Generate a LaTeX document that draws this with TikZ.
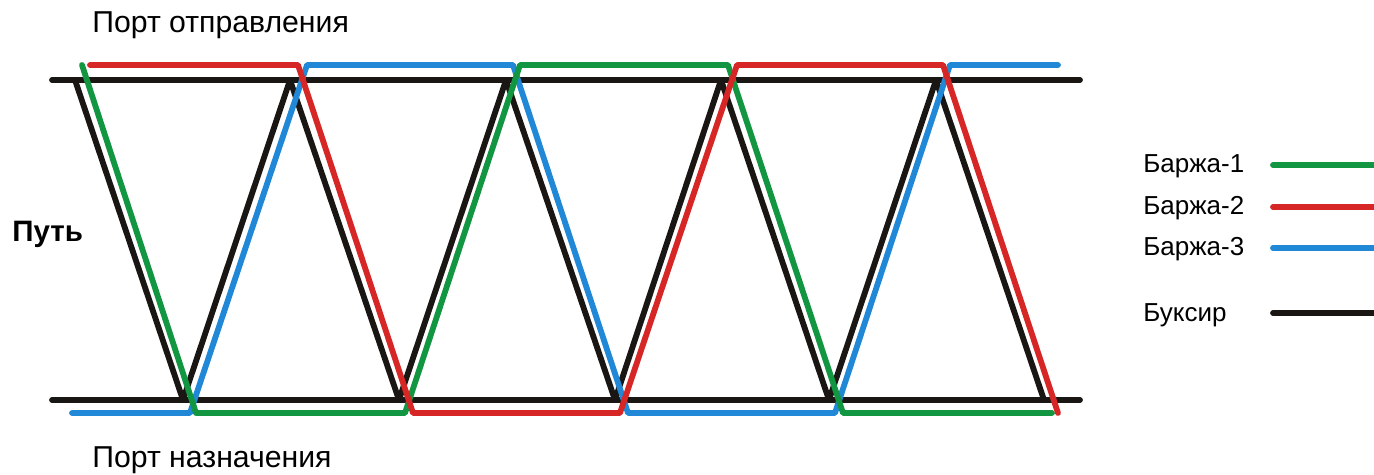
\documentclass[tikz,border=0pt]{standalone}
\usepackage{fontspec}
\setmainfont{Liberation Sans}
\usetikzlibrary{positioning}

\definecolor{bargeA}{RGB}{18,150,66}
\definecolor{bargeB}{RGB}{214,38,38}
\definecolor{bargeC}{RGB}{32,136,214}
\definecolor{tugc}{RGB}{26,22,20}

\begin{document}
\begin{tikzpicture}[x=0.02cm,y=-0.02cm,
  route/.style={line width=3.3pt,line cap=round,line join=round},
  lbl/.style={anchor=base west,inner sep=0pt,font=\fontsize{17.2}{20}\selectfont},
  key/.style={anchor=base west,inner sep=0pt,font=\fontsize{14.8}{17}\selectfont}]
  \useasboundingbox (0,0) rectangle (1374,475);
  \clip (0,0) rectangle (1374,475);
  % port lines
  \coordinate (dep-w) at (52,80);  \coordinate (dep-e) at (1080,80);
  \coordinate (arr-w) at (52,400); \coordinate (arr-e) at (1080,400);
  \draw[route,tugc] (dep-w) -- (dep-e);
  \draw[route,tugc] (arr-w) -- (arr-e);
  % tug
  \draw[route,tugc] (75,80) -- (183,400) -- (290,80) -- (399,400) -- (506,80)
    -- (615,400) -- (721,80) -- (829,400) -- (936,80) -- (1044,400);
  % barges
  \draw[route,bargeC] (72,413) -- (190,413) -- (307,65) -- (513,65) -- (628,413)
    -- (835,413) -- (950,65) -- (1058,65);
  \draw[route,bargeA] (82,65) -- (196,413) -- (405,413) -- (520,65) -- (728,65)
    -- (843,413) -- (1052,413);
  \draw[route,bargeB] (90,65) -- (298,65) -- (413,413) -- (620,413) -- (737,65)
    -- (943,65) -- (1058,413);
  % labels
  \node[lbl] (dep) at (92,33) {Порт отправления};
  \node[lbl] (arr) at (92,468) {Порт назначения};
  \node[lbl,font=\fontsize{16.8}{19}\selectfont\bfseries] (way) at (12,242) {Путь};
  % legend
  \node[key] (k1) at (1143,173) {Баржа-1};
  \node[key] (k2) at (1143,215) {Баржа-2};
  \node[key] (k3) at (1143,256) {Баржа-3};
  \node[key] (k4) at (1143,322) {Буксир};
  \coordinate (k1e) at (1273,165); \coordinate (k2e) at (1273,207);
  \coordinate (k3e) at (1273,248); \coordinate (k4e) at (1273,313);
  \draw[route,bargeA] (k1e) -- ++(130,0);
  \draw[route,bargeB] (k2e) -- ++(130,0);
  \draw[route,bargeC] (k3e) -- ++(130,0);
  \draw[route,tugc] (k4e) -- ++(130,0);
\end{tikzpicture}
\end{document}
